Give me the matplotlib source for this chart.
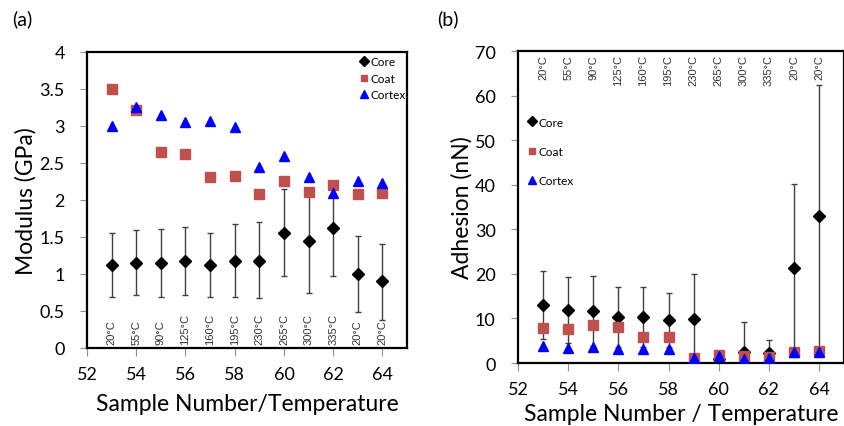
import matplotlib
matplotlib.use("Agg")
import matplotlib.pyplot as plt
import numpy as np

plt.rcParams['font.family'] = ['Lato', 'DejaVu Sans']

# sample numbers and temperatures
samples = [53, 54, 55, 56, 57, 58, 59, 60, 61, 62, 63, 64]
temps = ["20°C", "55°C", "90°C", "125°C", "160°C", "195°C", "230°C",
         "265°C", "300°C", "335°C", "20°C", "20°C"]

# (a) modulus, GPa
mod_core = [1.12, 1.15, 1.15, 1.18, 1.12, 1.18, 1.18, 1.56, 1.44, 1.62, 1.00, 0.90]
mod_core_lo = [0.69, 0.72, 0.69, 0.72, 0.69, 0.69, 0.67, 0.97, 0.74, 0.97, 0.49, 0.38]
mod_core_hi = [1.56, 1.59, 1.61, 1.64, 1.56, 1.67, 1.70, 2.15, 2.11, 2.24, 1.52, 1.41]
mod_coat = [3.50, 3.22, 2.65, 2.62, 2.31, 2.32, 2.08, 2.25, 2.11, 2.20, 2.08, 2.10]
mod_cortex = [3.00, 3.25, 3.15, 3.05, 3.07, 2.99, 2.44, 2.59, 2.31, 2.10, 2.26, 2.23]

# (b) adhesion, nN
adh_core = [13.0, 11.9, 11.6, 10.3, 10.3, 9.7, 9.9, 0.9, 2.5, 2.2, 21.3, 33.0]
adh_core_lo = [5.4, 4.5, 3.8, 3.6, 3.6, 3.7, 0.5, 0.0, 0.0, 0.0, 2.4, 3.7]
adh_core_hi = [20.6, 19.4, 19.5, 17.0, 17.0, 15.7, 20.0, 2.5, 9.3, 5.2, 40.2, 62.3]
adh_coat = [7.85, 7.55, 8.45, 8.0, 5.75, 5.75, 1.1, 1.9, 1.65, 1.3, 2.4, 2.6]
adh_cortex = [3.9, 3.4, 3.7, 3.2, 3.2, 3.1, 1.1, 1.6, 1.0, 1.1, 2.4, 2.4]

coat_color = "#C0504D"
cortex_color = "#0000FF"


def draw_panel(ax, core, lo, hi, coat, cortex):
    core = np.array(core)
    yerr = [core - np.array(lo), np.array(hi) - core]
    ax.errorbar(samples, core, yerr=yerr, fmt="none", ecolor="#404040",
                elinewidth=1.0, capsize=2.5, capthick=1.0, zorder=2)
    ax.plot(samples, core, "D", color="black", ms=6.5, label="Core", zorder=3)
    ax.plot(samples, coat, "s", color=coat_color, ms=6.5, label="Coat", zorder=4)
    ax.plot(samples, cortex, "^", color=cortex_color, ms=7.5, label="Cortex", zorder=5)
    ax.set_xlim(52, 65)
    ax.set_xticks(range(52, 65, 2))
    for s in ax.spines.values():
        s.set_linewidth(1.6)
    ax.tick_params(axis="both", labelsize=13, color="#909090", direction="out")
    ax.tick_params(axis="x", length=6, pad=7)
    ax.tick_params(axis="y", length=5, pad=11)


fig = plt.figure(figsize=(8.45, 4.27), dpi=100)

# panel (a)
ax1 = fig.add_axes([0.103, 0.1827, 0.3787, 0.6932])
draw_panel(ax1, mod_core, mod_core_lo, mod_core_hi, mod_coat, mod_cortex)
ax1.set_ylim(0, 4)
ax1.set_yticks(np.arange(0, 4.01, 0.5))
ax1.set_yticklabels(["0", "0.5", "1", "1.5", "2", "2.5", "3", "3.5", "4"])
ax1.set_xlabel("Sample Number/Temperature", fontsize=16.5, labelpad=8)
ax1.set_ylabel("Modulus (GPa)", fontsize=16.5, labelpad=2)
for x, t in zip(samples, temps):
    ax1.text(x, 0.05, t, rotation=90, ha="center", va="bottom", fontsize=8,
             family="Liberation Sans", color="#333333")
ax1.legend(loc="upper left", bbox_to_anchor=(0.85, 0.985), frameon=False,
           fontsize=8.5, markerscale=0.75, handlelength=0.8, handletextpad=0.2,
           labelspacing=0.45, borderpad=0, borderaxespad=0)
fig.text(0.014, 0.94, "(a)", fontsize=14)

# panel (b)
ax2 = fig.add_axes([0.613, 0.1475, 0.386, 0.7307])
draw_panel(ax2, adh_core, adh_core_lo, adh_core_hi, adh_coat, adh_cortex)
ax2.set_ylim(0, 70)
ax2.set_yticks(range(0, 71, 10))
ax2.set_xlabel("Sample Number / Temperature", fontsize=16.5, labelpad=4)
ax2.set_ylabel("Adhesion (nN)", fontsize=16.5, labelpad=2)
for x, t in zip(samples, temps):
    ax2.text(x, 69.3, t, rotation=90, ha="center", va="top", fontsize=8,
             family="Liberation Sans", color="#333333")
ax2.legend(loc="upper left", bbox_to_anchor=(0.028, 0.79), frameon=False,
           fontsize=8.5, markerscale=0.75, handlelength=0.8, handletextpad=0.2,
           labelspacing=1.55, borderpad=0, borderaxespad=0)
fig.text(0.517, 0.94, "(b)", fontsize=14)

fig.savefig("out.png", dpi=100)
